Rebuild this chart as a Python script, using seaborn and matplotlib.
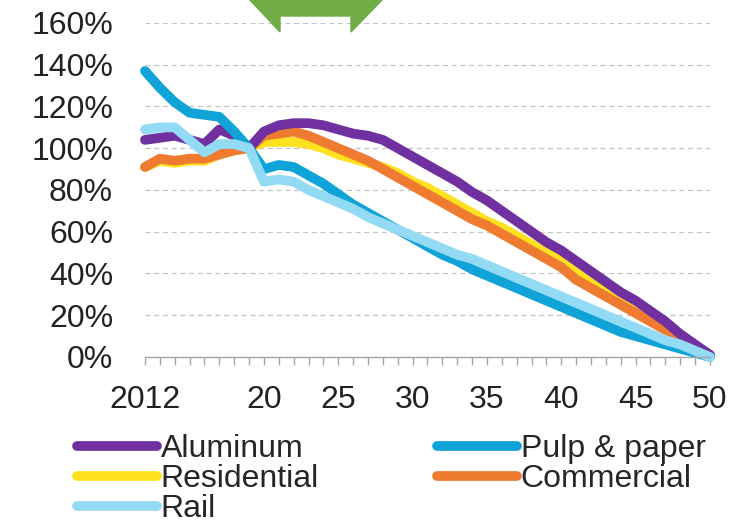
import pandas as pd
import numpy as np
import seaborn as sns
import matplotlib.pyplot as plt
from matplotlib.patches import Polygon
from matplotlib.ticker import MultipleLocator

# data (index, 2019 = 100%)
years = list(range(2012, 2051))
aluminum = [104, 105, 106, 104, 102, 109, 106, 100,
            108, 111, 112, 112, 111, 109, 107, 106, 104, 100,
            96, 92, 88, 84, 79, 75, 70, 65, 60, 55,
            51, 46, 41, 36, 31, 27, 22, 17, 11, 6, 1]
pulp_paper = [137, 129, 122, 117, 116, 115, 108, 100,
              90, 92, 91, 87, 83, 78, 73, 69, 65, 61,
              57, 53, 49, 46, 42, 39, 36, 33, 30, 27,
              24, 21, 18, 15, 12, 10, 8, 6, 4, 2, 0]
residential = [91, 94, 93, 94, 94, 97, 99, 100,
               103, 103, 103, 102, 100, 97, 95, 93, 91, 88,
               84, 81, 77, 73, 69, 65, 62, 58, 54, 50,
               46, 41, 37, 33, 28, 24, 19, 14, 10, 5, 1]
commercial = [91, 95, 94, 95, 95, 97, 99, 100,
              106, 107, 108, 106, 103, 100, 97, 94, 90, 86,
              82, 78, 74, 70, 66, 63, 59, 55, 51, 47,
              43, 37, 33, 29, 25, 21, 17, 13, 10, 5, 1]
rail = [109, 110, 110, 104, 98, 102, 102, 100,
        84, 85, 84, 80, 77, 74, 71, 67, 64, 61,
        58, 55, 52, 49, 47, 44, 41, 38, 35, 32,
        29, 26, 23, 20, 17, 14, 11, 8, 6, 3, 0]

series = {'Aluminum': aluminum, 'Pulp & paper': pulp_paper,
          'Residential': residential, 'Commercial': commercial, 'Rail': rail}
colors = {'Aluminum': '#7030A0', 'Pulp & paper': '#10A3D8',
          'Residential': '#FFE11F', 'Commercial': '#EE7B30', 'Rail': '#93DAF5'}

df = pd.DataFrame([(name, y, v) for name, vals in series.items() for y, v in zip(years, vals)],
                  columns=['sector', 'year', 'value'])

sns.set_style('white')
plt.rcParams['font.family'] = ['Liberation Sans', 'DejaVu Sans']
fs = 23

fig = plt.figure(figsize=(7.54, 5.26), dpi=100)
ax = fig.add_axes([0.1923, 0.3213, 0.7493, 0.635])

draw_order = ['Residential', 'Commercial', 'Aluminum', 'Pulp & paper', 'Rail']
sns.lineplot(data=df, x='year', y='value', hue='sector', hue_order=draw_order,
             palette=colors, linewidth=7, ax=ax, solid_capstyle='round')
for ln in ax.lines:
    ln.set_clip_on(False)

ax.set_xlim(2012, 2050)
ax.set_ylim(0, 160)
ax.set_xlabel('')
ax.set_ylabel('')

xt = [2012, 2020, 2025, 2030, 2035, 2040, 2045, 2050]
ax.set_xticks(xt)
ax.set_xticklabels(['2012'] + [str(v)[2:] for v in xt[1:]], fontsize=fs, color='#222222')
ax.xaxis.set_minor_locator(MultipleLocator(1))
ax.tick_params(axis='x', which='both', direction='out', length=6, width=1,
               color='#A6A6A6', bottom=True, pad=14)

yt = list(range(0, 161, 20))
ax.set_yticks(yt)
ax.set_yticklabels([f'{v}%' for v in yt], fontsize=fs, color='#222222')
ax.tick_params(axis='y', length=0, pad=23)

ax.yaxis.grid(True, linestyle=(0, (4, 3)), color='#C4C4C4', linewidth=0.9)
ax.xaxis.grid(False)
for s in ['top', 'right', 'left']:
    ax.spines[s].set_visible(False)
ax.spines['bottom'].set_color('#A6A6A6')
ax.spines['bottom'].set_linewidth(1)

# legend, rows: Aluminum | Pulp & paper, Residential | Commercial, Rail
ax.get_legend().remove()
handles, labels = ax.get_legend_handles_labels()
lookup = dict(zip(labels, handles))
leg_order = ['Aluminum', 'Residential', 'Rail', 'Pulp & paper', 'Commercial']
fig.legend([lookup[k] for k in leg_order], leg_order, ncol=2, loc='upper left',
           bbox_to_anchor=(0.102, 0.175), frameon=False, fontsize=fs,
           handlelength=2.5, handletextpad=0.12, columnspacing=3.7,
           labelspacing=0.0, borderpad=0, borderaxespad=0)

# green arrow piece at the top
pts = [(248, -2), (280, 32), (280, 16), (351, 16), (351, 32), (384, -2)]
fig.patches.append(Polygon([(x / 754, 1 - y / 526) for x, y in pts], closed=True,
                           transform=fig.transFigure, color='#70AD47', zorder=5))

fig.savefig('out.png', dpi=100)
